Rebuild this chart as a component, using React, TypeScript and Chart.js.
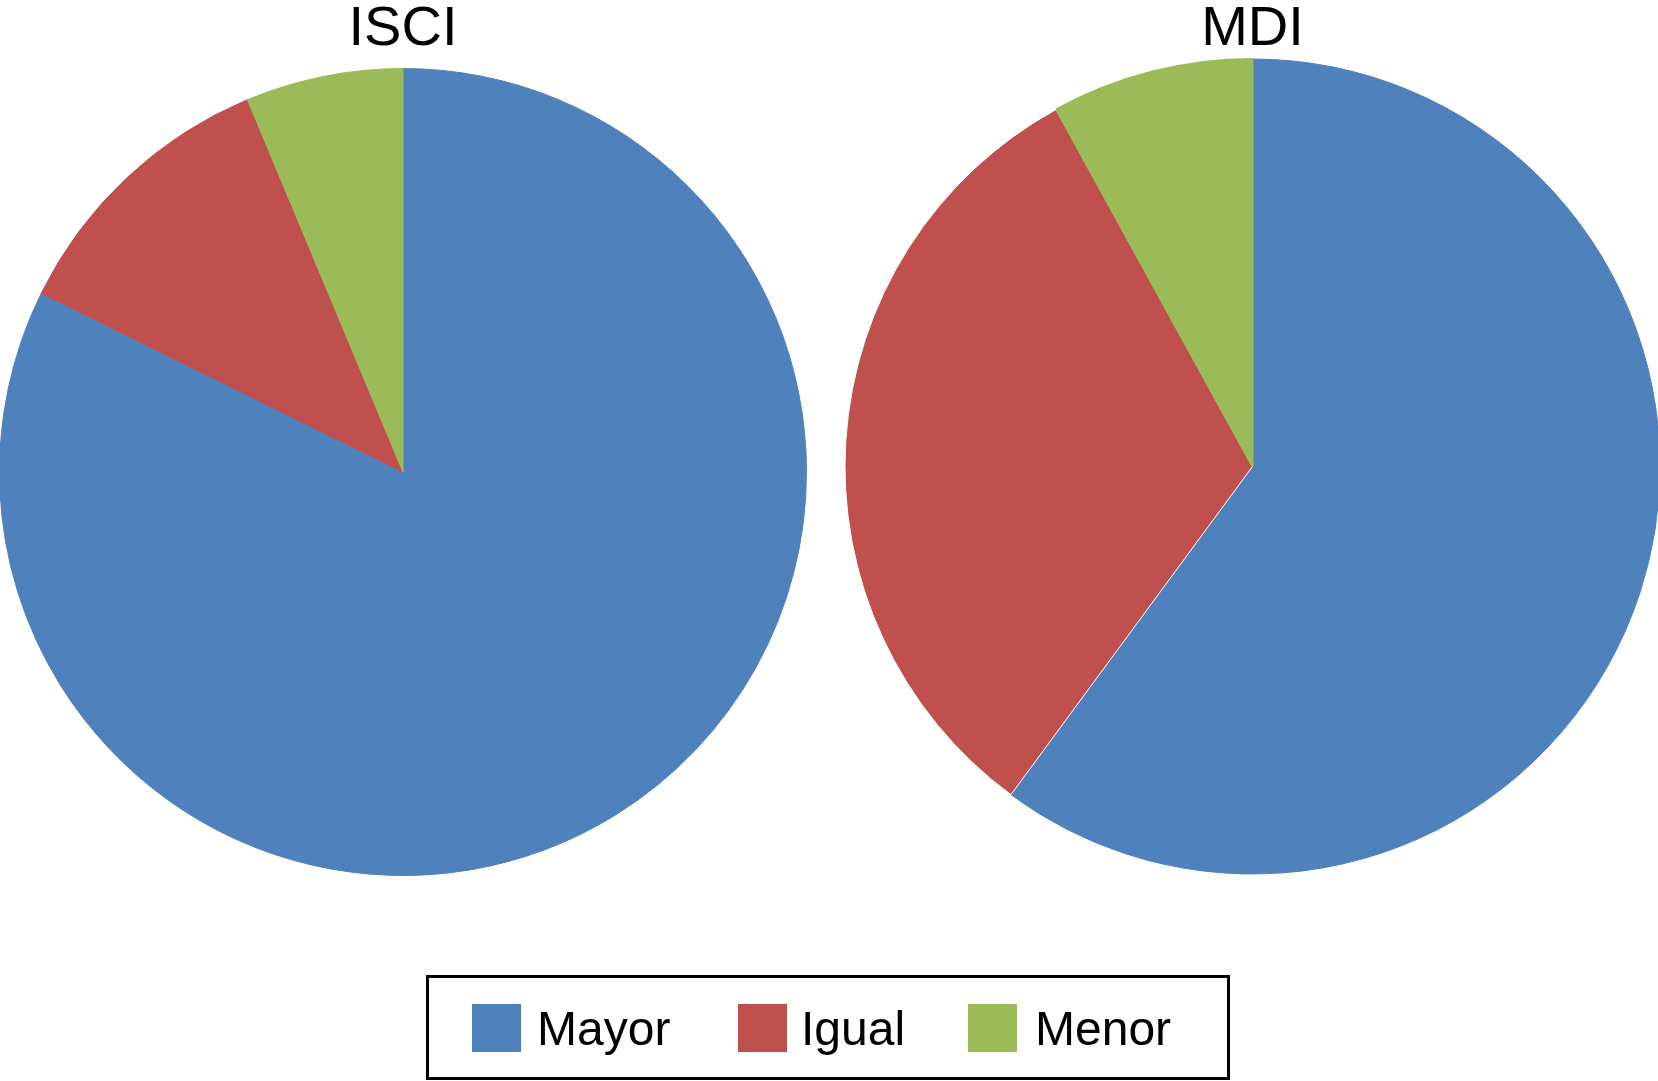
import React, { useEffect, useRef } from "react";
import { Chart, registerables } from "chart.js";

Chart.register(...registerables);

const categories = ["Mayor", "Igual", "Menor"];
const isciValues = [82.3, 11.4, 6.3];
const mdiValues = [60.1, 31.9, 8.0];
const colors = ["#4F81BD", "#C0504D", "#9BBB59"];
const FONT = "'Liberation Sans', Arial, Helvetica, sans-serif";

const legendSwatchX = [472, 738, 968];
const legendTextX = [537, 801, 1035];

type PieProps = {
  title: string;
  values: number[];
  left: number;
  width: number;
  titleBlock: number;
  borderColor: string[];
  borderWidth: number[];
};

function PieChart({ title, values, left, width, titleBlock, borderColor, borderWidth }: PieProps) {
  const ref = useRef<HTMLCanvasElement | null>(null);
  const height = titleBlock + width;
  useEffect(() => {
    if (!ref.current) return;
    const chart = new Chart(ref.current, {
      type: "pie",
      data: {
        labels: categories,
        datasets: [
          {
            data: values,
            backgroundColor: colors,
            borderColor,
            borderWidth,
            hoverOffset: 0,
          },
        ],
      },
      options: {
        responsive: false,
        animation: false,
        devicePixelRatio: 1,
        layout: { padding: 0 },
        plugins: {
          legend: { display: false },
          tooltip: { enabled: false },
          title: {
            display: true,
            text: title,
            color: "#000",
            font: { family: FONT, size: 56, weight: "normal", lineHeight: 1 },
            padding: { top: 2, bottom: titleBlock - 58 },
          },
        },
      },
    });
    return () => chart.destroy();
  }, []);
  return (
    <canvas
      ref={ref}
      width={width}
      height={height}
      style={{ position: "absolute", left, top: 0, width, height }}
    />
  );
}

export default function App() {
  return (
    <div
      style={{
        position: "fixed",
        left: 0,
        top: 0,
        width: 1658,
        height: 1081,
        overflow: "hidden",
        background: "#fff",
        fontFamily: FONT,
      }}
    >
      <PieChart
        title="ISCI"
        values={isciValues}
        left={-1}
        width={808}
        titleBlock={68}
        borderColor={colors}
        borderWidth={[1, 1, 1]}
      />
      <PieChart
        title="MDI"
        values={mdiValues}
        left={844}
        width={817}
        titleBlock={58}
        borderColor={[colors[0], "#ffffff", colors[2]]}
        borderWidth={[1, 1, 2]}
      />
      <div
        style={{
          position: "absolute",
          left: 426,
          top: 975,
          width: 804,
          height: 105,
          boxSizing: "border-box",
          border: "3px solid #000",
        }}
      />
      {categories.map((c, i) => (
        <React.Fragment key={c}>
          <div
            style={{
              position: "absolute",
              left: legendSwatchX[i],
              top: 1004,
              width: 49,
              height: 48,
              background: colors[i],
            }}
          />
          <div
            style={{
              position: "absolute",
              left: legendTextX[i],
              top: 1028,
              transform: "translateY(-50%) scaleX(0.98)",
              transformOrigin: "left center",
              fontSize: 49,
              lineHeight: 1.15,
              color: "#000",
              whiteSpace: "nowrap",
            }}
          >
            {c}
          </div>
        </React.Fragment>
      ))}
    </div>
  );
}
